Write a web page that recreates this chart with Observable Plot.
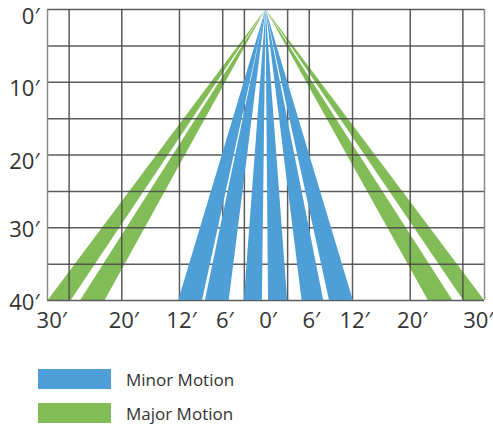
<!DOCTYPE html>
<html>
<head>
<meta charset="utf-8">
<script src="https://cdn.jsdelivr.net/npm/d3@7"></script>
<script src="https://cdn.jsdelivr.net/npm/@observablehq/plot@0.6"></script>
<style>
  body { margin: 0; background: #fff; font-family: "Open Sans", sans-serif; color: #333; }
  #chart { width: 493px; }
  .legend { margin-top: 34px; padding-left: 38px; }
  .row { display: flex; align-items: center; height: 20px; margin-bottom: 14px; }
  .sw { width: 73px; height: 20px; margin-right: 15px; }
  .lab { font-size: 17px; color: #333; }
</style>
</head>
<body>
<div id="chart"></div>
<div class="legend">
  <div class="row"><div class="sw" style="background:#4e9fd8"></div><div class="lab">Minor Motion</div></div>
  <div class="row"><div class="sw" style="background:#82bc56"></div><div class="lab">Major Motion</div></div>
</div>
<script>
// ---- data ----
const yLevels = [0, 5, 10, 15, 20, 25, 30, 35, 40];
const yTicksUpper = [0, 10, 20];
const yTicksLower = [30, 40];
const xTicks = [-30, -20, -12, -6, 0, 6, 12, 20];
const xTickLast = [30];
const xGridLines = [-27.3, -20, -12, -6, -3, 3, 6, 12, 20, 27.3];
const xFrame = [-30.3, 30.3];
// wedge edges at the 40' line (apex at 0',0')
const minorStart = [-12.1, -8.4, -3.0, 0.35, 5.0, 8.8];
const minorEnd   = [-8.8, -5.1, -0.5, 3.0, 8.0, 12.1];
const majorStart = [-30.2, -25.7, 22.5, 27.4];
const majorEnd   = [-27.0, -22.3, 25.9, 30.3];
const depth = 40;

const blue = "#4e9fd8", green = "#82bc56";

function wedgeRows(starts, ends, prefix) {
  const rows = [];
  starts.forEach((s, i) => {
    rows.push({id: prefix + i, y: 0, x1: 0, x2: 0});
    rows.push({id: prefix + i, y: depth, x1: s, x2: ends[i]});
  });
  return rows;
}
const minorRows = wedgeRows(minorStart, minorEnd, "m");
const majorRows = wedgeRows(majorStart, majorEnd, "M");
const fmt = d => Math.abs(d) + "\u2032";

const chart = Plot.plot({
  width: 493,
  height: 335,
  marginLeft: 47,
  marginRight: 9,
  marginTop: 9,
  marginBottom: 35,
  style: {fontFamily: "Open Sans, sans-serif", color: "#333", background: "#fff", overflow: "visible"},
  x: {domain: xFrame, label: null},
  y: {domain: [0, 40], reverse: true, label: null},
  marks: [
    Plot.areaX(majorRows, {y: "y", x1: "x1", x2: "x2", z: "id", fill: green}),
    Plot.ruleY(yLevels, {stroke: "#4a4a4a", strokeWidth: 1.5, strokeOpacity: 0.9}),
    Plot.ruleX(xGridLines, {stroke: "#4a4a4a", strokeWidth: 1.5, strokeOpacity: 0.9}),
    Plot.ruleX(xFrame, {stroke: "#8a8a8a", strokeWidth: 1.5}),
    Plot.areaX(minorRows, {y: "y", x1: "x1", x2: "x2", z: "id", fill: blue}),
    Plot.axisY(yTicksUpper, {anchor: "left", label: null, tickSize: 0, tickPadding: 8, fontSize: 22, dy: 7, tickFormat: fmt}),
    Plot.axisY(yTicksLower, {anchor: "left", label: null, tickSize: 0, tickPadding: 8, fontSize: 22, dy: 2, tickFormat: fmt}),
    Plot.axisX(xTicks, {anchor: "bottom", label: null, tickSize: 0, tickPadding: 12, fontSize: 22, dx: 2, tickFormat: fmt}),
    Plot.axisX(xTickLast, {anchor: "bottom", label: null, tickSize: 0, tickPadding: 12, fontSize: 22, dx: -4, tickFormat: fmt})
  ]
});
document.getElementById("chart").appendChild(chart);
</script>
</body>
</html>
